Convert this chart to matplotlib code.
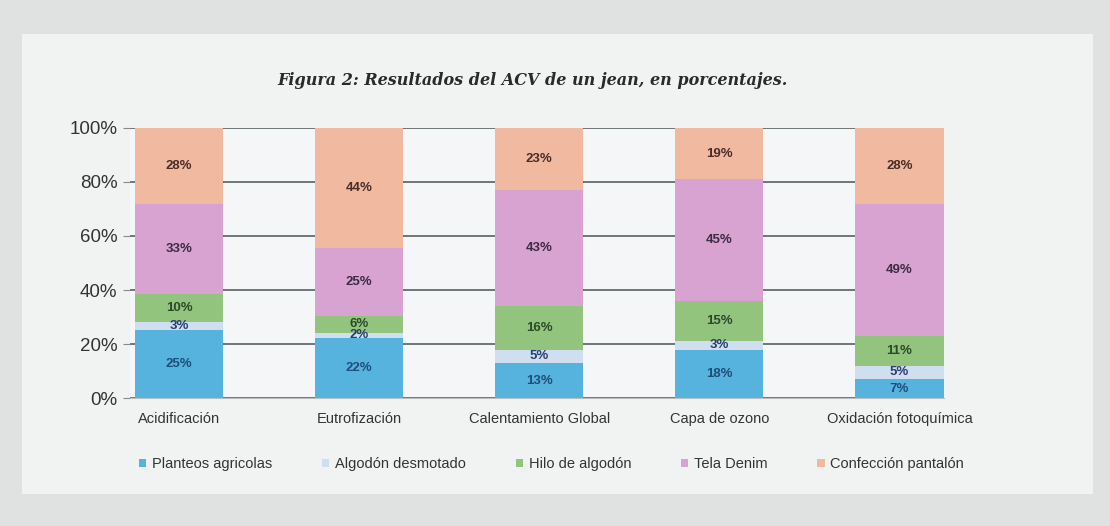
import numpy as np
import matplotlib
matplotlib.use("Agg")
from matplotlib import pyplot as plt
from matplotlib.patches import Rectangle

categorias = ['Acidificación', 'Eutrofización', 'Calentamiento Global',
              'Capa de ozono', 'Oxidación fotoquímica']
etapas = ['Planteos agricolas', 'Algodón desmotado', 'Hilo de algodón',
          'Tela Denim', 'Confección pantalón']

planteos = [25, 22, 13, 18, 7]
desmotado = [3, 2, 5, 3, 5]
hilo = [10, 6, 16, 15, 11]
denim = [33, 25, 43, 45, 49]
confeccion = [28, 44, 23, 19, 28]

colores = ['#55b3dd', '#cfdff0', '#93c47d', '#d8a3d0', '#f0b9a0']
col_txt = ['#1d4f7a', '#2b3d6b', '#2c4a2a', '#3d2a45', '#4a2c28']

series = np.array([planteos, desmotado, hilo, denim, confeccion], dtype=float)
# excel normaliza a 100%
pct = series / series.sum(axis=0) * 100

plt.rcParams['font.family'] = ['Liberation Sans', 'DejaVu Sans']

fig = plt.figure(figsize=(11.1, 5.26), dpi=100, facecolor='#dfe2e1')
fig.patches.append(Rectangle((0.02, 0.06), 0.965, 0.875, transform=fig.transFigure,
                             facecolor='#f1f3f2', edgecolor='none', zorder=-5))
ax = fig.add_axes([0.117, 0.243, 0.733, 0.514])
ax.set_facecolor('#f4f6f7')

x = np.arange(len(categorias))
w = 0.49
base = np.zeros(len(categorias))
for i in range(len(etapas)):
    ax.bar(x, pct[i], w, bottom=base, color=colores[i], label=etapas[i], zorder=2)
    for j in range(len(categorias)):
        ax.text(x[j], base[j] + pct[i][j] / 2, '%d%%' % series[i][j],
                ha='center', va='center', fontsize=9.5, color=col_txt[i],
                fontweight='bold', zorder=3)
    base += pct[i]

ax.set_xlim(-0.273, 4.245)
ax.set_ylim(0, 100)
ax.set_yticks(np.arange(0, 101, 20))
ax.set_yticklabels(['%d%%' % v for v in range(0, 101, 20)], fontsize=13.5, color='#333333')
ax.yaxis.grid(True, color='#6f7678', linewidth=1.4, zorder=1)
ax.set_axisbelow(True)
ax.tick_params(axis='y', length=5, color='#888888', pad=4)
ax.tick_params(axis='x', length=0, pad=10)
ax.set_xticks(x)
ax.set_xticklabels(categorias, fontsize=10.5, color='#333333')
for s in ['top', 'right', 'left']:
    ax.spines[s].set_visible(False)
ax.spines['bottom'].set_color('#b8bec2')

fig.text(0.48, 0.847, 'Figura 2: Resultados del ACV de un jean, en porcentajes.',
         ha='center', va='center', fontsize=11.5, fontweight='bold', style='italic',
         family='DejaVu Serif', color='#2a2a2a')

fig.legend(loc='center', bbox_to_anchor=(0.497, 0.118), ncol=5, frameon=False,
           fontsize=10.5, handlelength=0.5, handleheight=0.5, columnspacing=3.4,
           handletextpad=0.4, labelcolor='#333333')

fig.savefig('out.png', dpi=100, facecolor=fig.get_facecolor())
